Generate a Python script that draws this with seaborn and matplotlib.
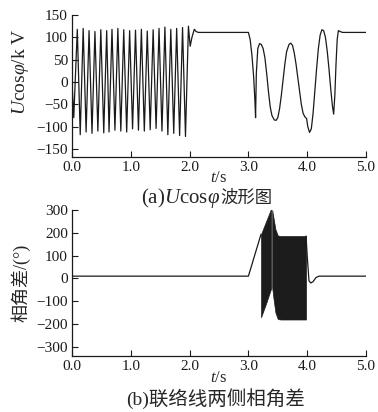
import numpy as np
import pandas as pd
import matplotlib
matplotlib.use("Agg")
import matplotlib.pyplot as plt
import seaborn as sns

# ---- (a) U*cos(phi) waveform, vertices ----
# oscillating part 0 - 2.15 s
osc_t = [0.00, 0.03, 0.09, 0.14, 0.19, 0.24, 0.29, 0.34, 0.39, 0.44, 0.49, 0.54,
         0.59, 0.63, 0.68, 0.73, 0.78, 0.83, 0.88, 0.93, 0.98, 1.03, 1.08, 1.13,
         1.18, 1.23, 1.28, 1.33, 1.38, 1.43, 1.48, 1.53, 1.58, 1.63, 1.68, 1.73,
         1.78, 1.83, 1.88, 1.93, 1.98, 2.01, 2.04, 2.08, 2.11, 2.15]
osc_v = [0, -80, 118, -118, 120, -112, 115, -115, 113, -110, 117, -114,
         115, -112, 118, -108, 120, -110, 117, -112, 115, -105, 116, -108,
         118, -110, 114, -107, 117, -104, 120, -110, 123, -118, 118, -115,
         120, -120, 122, -122, 125, 80, 100, 118, 113, 111]
# swing part 3.0 - 5.0 s
swing_t = [3.00, 3.03, 3.06, 3.09, 3.11, 3.122, 3.135, 3.16, 3.19, 3.22, 3.25,
           3.28, 3.31, 3.34, 3.37, 3.40, 3.44, 3.47, 3.50, 3.53, 3.56, 3.59,
           3.62, 3.65, 3.69, 3.72, 3.75, 3.78, 3.81, 3.84, 3.87, 3.90, 3.93,
           3.96, 3.99, 4.01, 4.04, 4.07, 4.10, 4.13, 4.16, 4.19, 4.22, 4.25,
           4.28, 4.31, 4.34, 4.37, 4.40, 4.43, 4.45, 4.47, 4.49, 4.51, 4.53,
           4.56, 4.60, 5.00]
swing_v = [111, 95, 60, 10, -40, -80, 20, 75, 86, 84, 75,
           55, 20, -20, -55, -75, -85, -86, -80, -60, -30, 5,
           40, 68, 84, 87, 82, 65, 40, 10, -20, -50, -70,
           -78, -82, -100, -113, -105, -70, -20, 30, 75, 105, 117,
           115, 100, 70, 30, -15, -55, -72, -30, 40, 95, 115,
           113, 111, 111]

# ---- (b) phase angle difference ----
ang_t = [0.0, 3.0, 3.215]
ang_v = [10, 10, 194]
ang_tail_t = [3.98, 4.00, 4.03, 4.06, 4.10, 4.15, 4.20, 5.00]
ang_tail_v = [186, 100, -10, -20, -14, 4, 10, 10]
# dense wrapping region envelopes (before / after the gap at ~3.39 s)
band1_t = [3.215, 3.30, 3.385]
band1_hi = [194, 250, 305]
band1_lo = [-170, -110, -45]
band2_t = [3.405, 3.43, 3.46, 3.50, 3.55, 3.98]
band2_hi = [300, 260, 215, 188, 186, 186]
band2_lo = [-40, -95, -150, -178, -180, -180]

xticks = [0, 1, 2, 3, 4, 5]
xticklabels = ["0.0", "1.0", "2.0", "3.0", "4.0", "5.0"]
yticks_a = [-150, -100, -50, 0, 50, 100, 150]
yticks_b = [-300, -200, -100, 0, 100, 200, 300]

sns.set_style("ticks")
plt.rcParams['font.family'] = ['Liberation Serif', 'Noto Sans CJK SC']
plt.rcParams['mathtext.fontset'] = 'custom'
plt.rcParams['mathtext.rm'] = 'Liberation Serif'
plt.rcParams['mathtext.it'] = 'Liberation Serif:italic'
plt.rcParams['axes.unicode_minus'] = True

fig = plt.figure(figsize=(3.78, 4.12), dpi=100)
ax1 = fig.add_axes([72 / 378, 1 - 157 / 412, 294 / 378, 142 / 412])
ax2 = fig.add_axes([72 / 378, 1 - 356 / 412, 294 / 378, 146 / 412])

df_a = pd.DataFrame({'t': osc_t + swing_t, 'v': osc_v + swing_v})
sns.lineplot(data=df_a, x='t', y='v', ax=ax1, color='#1a1a1a', lw=0.9,
             estimator=None, sort=False)

df_b1 = pd.DataFrame({'t': ang_t, 'v': ang_v})
df_b2 = pd.DataFrame({'t': ang_tail_t, 'v': ang_tail_v})
sns.lineplot(data=df_b1, x='t', y='v', ax=ax2, color='#1a1a1a', lw=0.9,
             estimator=None, sort=False)
sns.lineplot(data=df_b2, x='t', y='v', ax=ax2, color='#1a1a1a', lw=0.9,
             estimator=None, sort=False)
ax2.fill_between(band1_t, band1_lo, band1_hi, color='#1c1c1c', lw=0.5)
ax2.fill_between(band2_t, band2_lo, band2_hi, color='#1c1c1c', lw=0.5)

for ax, yt, ylim in [(ax1, yticks_a, (-168, 150)), (ax2, yticks_b, (-340, 300))]:
    ax.set_xlim(0, 5)
    ax.set_ylim(*ylim)
    ax.set_xticks(xticks)
    ax.set_xticklabels(xticklabels)
    ax.set_yticks(yt)
    ax.tick_params(direction='in', length=4, width=0.8, labelsize=11,
                   pad=3, colors='#1a1a1a')
    sns.despine(ax=ax)
    for s in ['left', 'bottom']:
        ax.spines[s].set_linewidth(0.9)
        ax.spines[s].set_color('#1a1a1a')

ax1.set_xlabel('$t$/s', fontsize=12, labelpad=-3)
ax2.set_xlabel('$t$/s', fontsize=12, labelpad=-2)
ax1.set_ylabel('$U$cos$\\varphi$/k V', fontsize=14)
ax1.yaxis.set_label_coords(-0.14, 0.6)
ax2.set_ylabel('相角差/(°)', fontsize=13)
ax2.yaxis.set_label_coords(-0.14, 0.5)

# captions: latin part with italic math, then the CJK part right after it
cap_y = 1 - 203 / 412
cap_a = fig.text(0, cap_y, '(a)$U$cos$\\varphi$', fontsize=15,
                 va='baseline', ha='left')
cap_b = fig.text(0, cap_y, '波形图', fontsize=12.5, va='baseline', ha='left',
                 family=['Noto Sans CJK SC'])
fig.canvas.draw()
inv = fig.transFigure.inverted()
wa = inv.transform((cap_a.get_window_extent().width, 0))[0] - inv.transform((0, 0))[0]
wb = inv.transform((cap_b.get_window_extent().width, 0))[0] - inv.transform((0, 0))[0]
x0 = 207 / 378 - (wa + wb) / 2
cap_a.set_x(x0)
cap_b.set_x(x0 + wa)

fig.text(216 / 378, 1 - 399 / 412, '(b)联络线两侧相角差', fontsize=14,
         va='center', ha='center')

fig.savefig('out.png', dpi=100)
